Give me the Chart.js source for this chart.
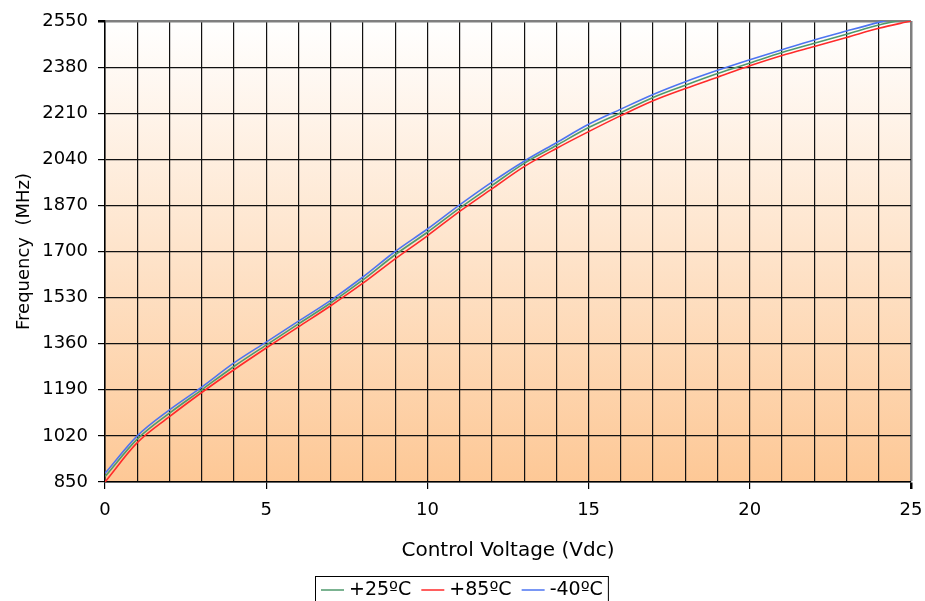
<!DOCTYPE html>
<html>
<head>
<meta charset="utf-8">
<script src="https://cdn.jsdelivr.net/npm/chart.js@4.4.0/dist/chart.umd.min.js"></script>
<style>
  html, body { margin: 0; padding: 0; background: #fff; }
  #wrap { width: 925px; height: 601px; }
</style>
</head>
<body>
<div id="wrap"><canvas id="vcoChart" width="925" height="601"></canvas></div>
<script>
// Control voltage (Vdc)
const voltages = [0, 1, 2, 3, 4, 5, 6, 7, 8, 9, 10, 11, 12, 13, 14, 15, 16, 17, 18, 19, 20, 21, 22, 23, 24, 25];
// Frequency (MHz) per temperature
const freq25 = [870, 1008, 1104, 1190, 1276, 1355, 1433, 1510, 1595, 1688, 1771, 1860, 1943, 2025, 2091, 2157, 2212, 2268, 2313, 2356, 2395, 2434, 2468, 2501, 2535, 2562];
const freq85 = [850, 995, 1091, 1180, 1264, 1344, 1422, 1500, 1583, 1673, 1758, 1848, 1931, 2013, 2080, 2142, 2201, 2256, 2301, 2343, 2385, 2423, 2456, 2489, 2523, 2550];
const freqM40 = [882, 1020, 1116, 1200, 1289, 1366, 1443, 1520, 1606, 1700, 1783, 1872, 1956, 2033, 2101, 2169, 2225, 2279, 2326, 2368, 2407, 2444, 2480, 2513, 2545, 2574];
const seriesNames = ['+25ºC', '+85ºC', '-40ºC'];
const yTicks = [850, 1020, 1190, 1360, 1530, 1700, 1870, 2040, 2210, 2380, 2550];

const FONT = 'Verdana, "DejaVu Sans", sans-serif';

const toPoints = (arr) => arr.map((v, i) => ({ x: voltages[i], y: v }));

// fondo degradado del area del grafico
const plotBackground = {
  id: 'plotBackground',
  beforeDraw(chart) {
    const { ctx, chartArea: a } = chart;
    const g = ctx.createLinearGradient(0, a.top, 0, a.bottom);
    g.addColorStop(0, '#ffffff');
    g.addColorStop(1, '#fdc896');
    ctx.save();
    ctx.fillStyle = g;
    ctx.fillRect(a.left, a.top, a.right - a.left, a.bottom - a.top);
    ctx.restore();
  }
};

// leyenda con recuadro, abajo
const boxedLegend = {
  id: 'boxedLegend',
  afterDraw(chart) {
    const { ctx } = chart;
    ctx.save();
    ctx.font = '19px ' + FONT;
    ctx.textBaseline = 'middle';
    const boxLeft = 315, boxTop = 576;
    let x = boxLeft + 6;
    const y = 590;
    chart.data.datasets.forEach((ds) => {
      ctx.strokeStyle = ds.borderColor;
      ctx.lineWidth = 1.5;
      ctx.beginPath();
      ctx.moveTo(x, y);
      ctx.lineTo(x + 23, y);
      ctx.stroke();
      x += 28;
      ctx.fillStyle = '#000';
      ctx.fillText(ds.label, x, y);
      x += ctx.measureText(ds.label).width + 10;
    });
    ctx.strokeStyle = '#000';
    ctx.lineWidth = 1;
    ctx.strokeRect(boxLeft + 0.5, boxTop + 0.5, x - boxLeft - 5, 40);
    ctx.restore();
  }
};

const ctx = document.getElementById('vcoChart').getContext('2d');
new Chart(ctx, {
  type: 'line',
  data: {
    datasets: [
      { label: seriesNames[0], data: toPoints(freq25), borderColor: '#4f9a6c' },
      { label: seriesNames[1], data: toPoints(freq85), borderColor: '#ff2a2a' },
      { label: seriesNames[2], data: toPoints(freqM40), borderColor: '#4d74f2' },
    ].map(d => Object.assign(d, {
      borderWidth: 1.6,
      pointRadius: 0,
      fill: false,
      cubicInterpolationMode: 'monotone',
    })),
  },
  options: {
    responsive: false,
    animation: false,
    devicePixelRatio: 1,
    layout: { padding: { top: 21, right: 14, left: 10, bottom: 36 } },
    plugins: {
      legend: { display: false },
      tooltip: { enabled: false },
    },
    scales: {
      x: {
        type: 'linear',
        min: 0,
        max: 25,
        afterFit: (scale) => { scale.height = 83; scale.paddingRight = 0; scale.paddingLeft = 0; },
        ticks: {
          stepSize: 1,
          autoSkip: false,
          maxRotation: 0,
          padding: 11,
          color: '#000',
          font: { family: FONT, size: 18 },
          callback: (v) => (v % 5 === 0 ? String(v) : ''),
        },
        grid: {
          color: (c) => (c.tick && c.tick.value === 25 ? '#7f7f7f' : '#111'),
          lineWidth: (c) => (c.tick && c.tick.value === 25 ? 2.5 : 1.2),
          tickLength: 7,
          tickColor: (c) => (c.tick && c.tick.value % 5 === 0 ? '#000' : 'rgba(0,0,0,0)'),
        },
        border: { color: '#000', width: 1.5 },
        title: {
          display: true,
          text: 'Control Voltage (Vdc)',
          color: '#000',
          padding: { top: 4, bottom: 2 },
          font: { family: FONT, size: 20 },
        },
      },
      y: {
        min: yTicks[0],
        max: yTicks[yTicks.length - 1],
        afterFit: (scale) => { scale.width = 95; },
        afterBuildTicks: (scale) => { scale.ticks = yTicks.map(v => ({ value: v })); },
        ticks: {
          padding: 10,
          color: '#000',
          font: { family: FONT, size: 18 },
          callback: (v) => String(v),
        },
        grid: {
          color: (c) => (c.tick && c.tick.value === 2550 ? '#7f7f7f' : '#111'),
          lineWidth: (c) => (c.tick && c.tick.value === 2550 ? 2.5 : 1.2),
          tickLength: 7,
          tickColor: '#000',
        },
        border: { color: '#000', width: 1.5 },
        title: {
          display: true,
          text: 'Frequency  (MHz)',
          color: '#000',
          font: { family: FONT, size: 18 },
        },
      },
    },
  },
  plugins: [plotBackground, boxedLegend],
});
</script>
</body>
</html>
